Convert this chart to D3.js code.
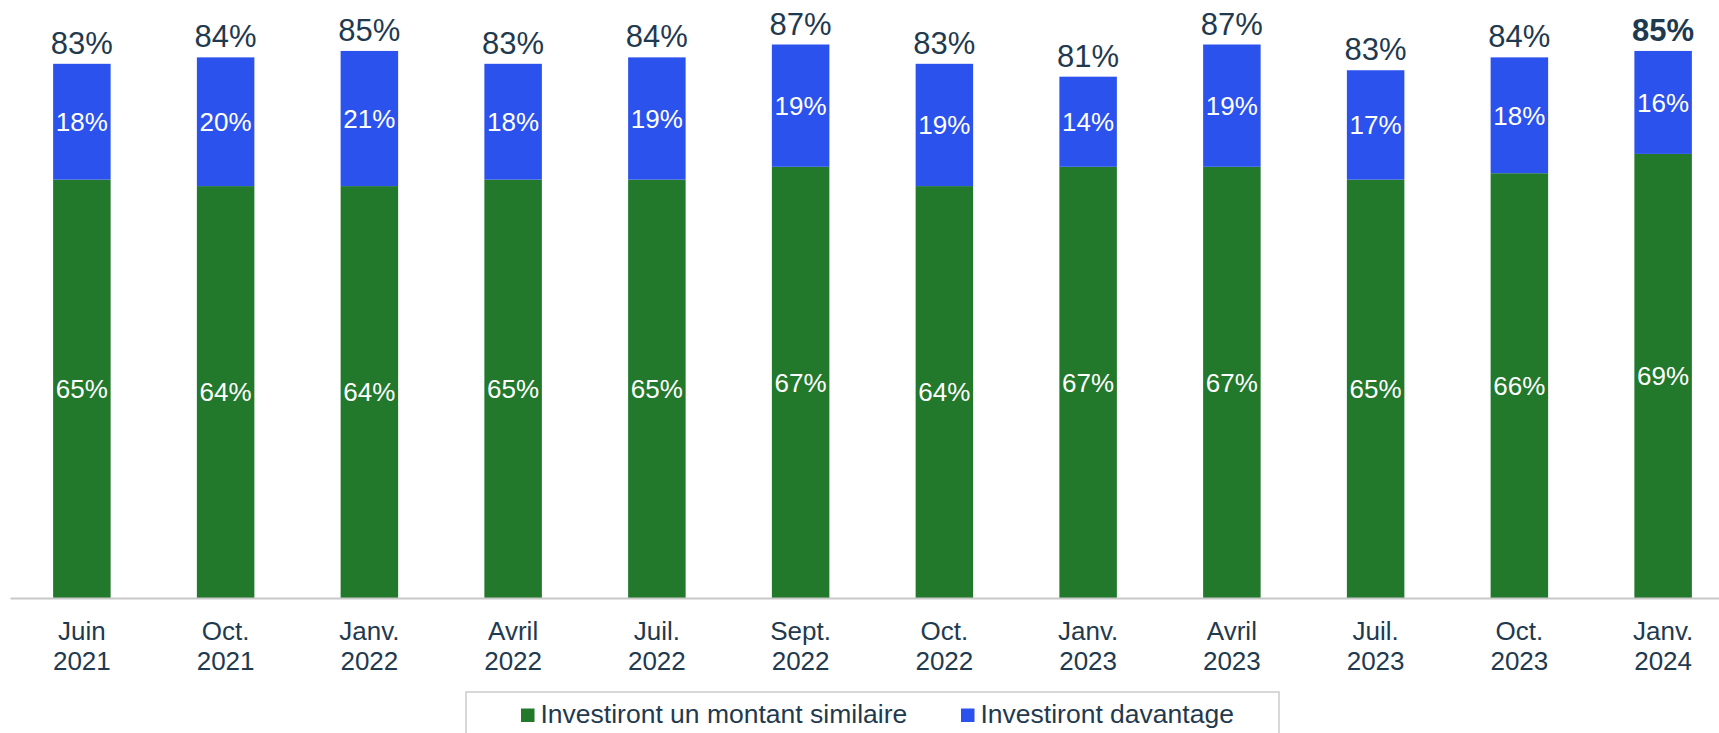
<!DOCTYPE html>
<html>
<head>
<meta charset="utf-8">
<script src="https://cdn.jsdelivr.net/npm/d3@7"></script>
<style>
  html, body { margin: 0; padding: 0; background: #fff; }
  svg { display: block; font-family: "Liberation Sans", Arial, sans-serif; }
</style>
</head>
<body>
<svg id="chart" width="1719" height="733"></svg>
<script>
const categories = ["Juin|2021", "Oct.|2021", "Janv.|2022", "Avril|2022", "Juil.|2022", "Sept.|2022",
                    "Oct.|2022", "Janv.|2023", "Avril|2023", "Juil.|2023", "Oct.|2023", "Janv.|2024"];
const similaire = [65, 64, 64, 65, 65, 67, 64, 67, 67, 65, 66, 69];
const davantage = [18, 20, 21, 18, 19, 19, 19, 14, 19, 17, 18, 16];
const totals    = [83, 84, 85, 83, 84, 87, 83, 81, 87, 83, 84, 85];
const seriesNames = ["Investiront un montant similaire", "Investiront davantage"];
const colors = ["#22782b", "#2c52ee"];
const textColor = "#1f3a4f";

const svg = d3.select("#chart");
const baseline = 598;
const x = d3.scaleBand().domain(categories).range([10, 1735]).paddingInner(0.6).paddingOuter(0.3);
const y = d3.scaleLinear().domain([0, 100]).range([baseline, baseline - 643.6]);

const rows = categories.map((c, i) => ({ cat: c, similaire: similaire[i], davantage: davantage[i], total: totals[i] }));
const stack = d3.stack().keys(["similaire", "davantage"])(rows);

const g = svg.append("g");
stack.forEach((layer, li) => {
  const lg = g.append("g");
  lg.selectAll("rect").data(layer).join("rect")
    .attr("x", d => x(d.data.cat))
    .attr("width", x.bandwidth())
    .attr("y", d => y(d[1]))
    .attr("height", d => y(d[0]) - y(d[1]))
    .attr("fill", colors[li]);
  lg.selectAll("text").data(layer).join("text")
    .attr("x", d => x(d.data.cat) + x.bandwidth() / 2)
    .attr("y", d => (y(d[0]) + y(d[1])) / 2)
    .attr("dy", "0.36em")
    .attr("text-anchor", "middle")
    .attr("fill", "#fff")
    .attr("font-size", 26)
    .text(d => d.data[layer.key] + "%");
});

// totals
const topLayer = stack[1];
g.selectAll("text.total").data(topLayer).join("text")
  .attr("class", "total")
  .attr("x", d => x(d.data.cat) + x.bandwidth() / 2)
  .attr("y", d => y(d[1]) - 10)
  .attr("text-anchor", "middle")
  .attr("fill", textColor)
  .attr("font-size", 31)
  .attr("font-weight", (d, i) => i === topLayer.length - 1 ? "bold" : "normal")
  .text(d => d.data.total + "%");

// axis
const axis = svg.append("g").attr("transform", `translate(0,${baseline})`)
  .call(d3.axisBottom(x).tickSize(0).tickSizeOuter(0));
axis.select(".domain").attr("stroke", "#c8c8c8").attr("stroke-width", 2);
axis.selectAll(".tick text").each(function(d) {
  const t = d3.select(this);
  t.text(null).attr("y", 0).attr("dy", null)
    .attr("fill", textColor).attr("font-size", 26)
    .attr("font-family", "'Liberation Sans', Arial, sans-serif");
  const parts = d.split("|");
  t.append("tspan").attr("x", 0).attr("y", 42).text(parts[0]);
  t.append("tspan").attr("x", 0).attr("y", 71.5).text(parts[1]);
});

// legend
const legend = svg.append("g");
legend.append("rect").attr("x", 466).attr("y", 692).attr("width", 813).attr("height", 60)
  .attr("fill", "none").attr("stroke", "#cccccc").attr("stroke-width", 1.5);
const legX = [521, 961];
seriesNames.forEach((name, i) => {
  legend.append("rect").attr("x", legX[i]).attr("y", 708.5).attr("width", 13.5).attr("height", 13.5).attr("fill", colors[i]);
  legend.append("text").attr("x", legX[i] + 19.5).attr("y", 722.7)
    .attr("fill", textColor).attr("font-size", 26.5).text(name);
});
</script>
</body>
</html>
